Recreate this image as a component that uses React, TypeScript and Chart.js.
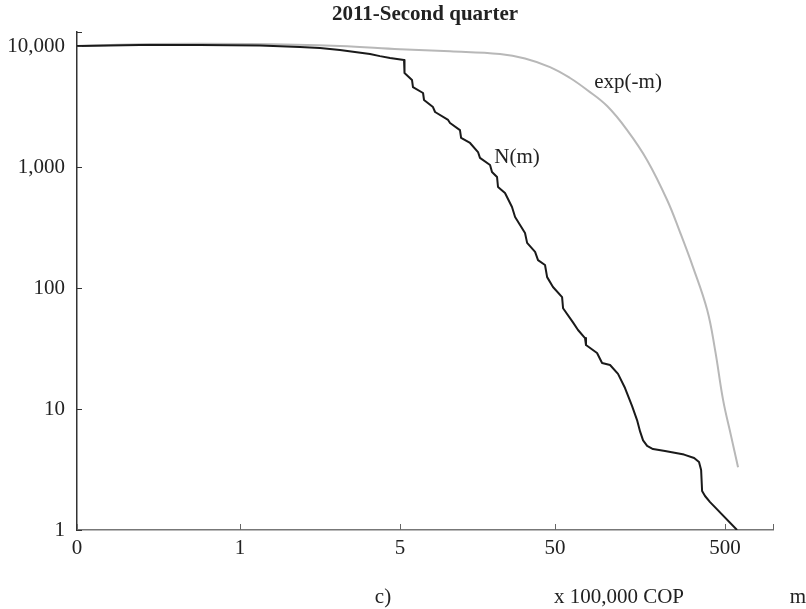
import React, { useEffect, useRef } from "react";
import { Chart, registerables } from "chart.js";

Chart.register(...registerables);

// x axis: position units, with labelled ticks (m in units of 100,000 COP)
const xTickPositions = [0, 1.002, 1.986, 2.94, 3.985, 4.28];
const xTickLabels = ["0", "1", "5", "50", "500", ""];
const yTickValues = [1, 10, 100, 1000, 10000, 13060];

// N(m) series
const nmX = [0, 0.387, 0.756, 1.125, 1.371, 1.494, 1.617, 1.709, 1.802, 1.863, 1.925, 2.011, 2.014, 2.06, 2.066, 2.128, 2.134, 2.189, 2.202, 2.282, 2.294, 2.355, 2.362, 2.417, 2.466, 2.478, 2.54, 2.552, 2.583, 2.589, 2.632, 2.675, 2.694, 2.755, 2.768, 2.817, 2.835, 2.878, 2.891, 2.927, 2.983, 2.989, 3.05, 3.081, 3.124, 3.13, 3.198, 3.229, 3.278, 3.327, 3.37, 3.413, 3.444, 3.463, 3.481, 3.506, 3.542, 3.616, 3.733, 3.795, 3.825, 3.838, 3.844, 3.862, 3.893, 4.059];
const nmY = [10000, 10190, 10190, 10090, 9810, 9620, 9270, 8920, 8590, 8250, 7960, 7660, 5980, 5240, 4580, 4090, 3580, 3130, 2850, 2450, 2310, 2020, 1740, 1580, 1330, 1190, 1040, 910, 827, 684, 610, 467, 386, 285, 236, 199, 170, 155, 123, 102, 84, 68, 52, 45, 38.6, 33.8, 29, 24, 23.1, 19.5, 14.9, 10.6, 8.1, 6.5, 5.5, 4.95, 4.67, 4.5, 4.2, 3.94, 3.65, 3.13, 2.1, 1.91, 1.7, 1];

// exp(-m) series
const expX = [0, 0.449, 1.064, 1.617, 1.986, 2.294, 2.601, 2.755, 2.909, 3.032, 3.137, 3.26, 3.383, 3.506, 3.629, 3.708, 3.788, 3.875, 3.924, 3.973, 4.022, 4.065];
const expY = [10000, 10390, 10390, 10000, 9400, 9050, 8600, 7900, 6700, 5440, 4330, 3190, 2020, 1140, 534, 290, 149, 66, 30.7, 11.9, 6.0, 3.3];

const seriesLabels = ["N(m)", "exp(-m)"];
const seriesLabelPos = [
  { x: 2.706, y: 1210 },
  { x: 3.389, y: 4950 },
];
const titleText = "2011-Second quarter";
const footerTexts = ["c)", "x 100,000 COP", "m"];

const FONT = "'Liberation Serif', 'Times New Roman', serif";

export default function App() {
  const ref = useRef<HTMLCanvasElement | null>(null);

  useEffect(() => {
    document.body.style.margin = "0";
    const canvas = ref.current;
    if (!canvas) return;

    const annotate = {
      id: "annotate",
      afterDraw(chart: any) {
        const ctx = chart.ctx;
        const xs = chart.scales.x;
        const ys = chart.scales.y;
        const area = chart.chartArea;
        ctx.save();
        // inner ticks
        ctx.lineWidth = 1;
        ctx.strokeStyle = "#666";
        xTickPositions.forEach((v) => {
          const px = Math.round(xs.getPixelForValue(v)) + 0.5;
          ctx.beginPath();
          ctx.moveTo(px, area.bottom);
          ctx.lineTo(px, area.bottom - 6);
          ctx.stroke();
        });
        ctx.strokeStyle = "#333";
        yTickValues.forEach((v) => {
          const py = Math.round(ys.getPixelForValue(v)) + 0.5;
          ctx.beginPath();
          ctx.moveTo(area.left, py);
          ctx.lineTo(area.left + 5, py);
          ctx.stroke();
        });
        // title
        ctx.fillStyle = "#222";
        ctx.font = `bold 21px ${FONT}`;
        ctx.textAlign = "center";
        ctx.textBaseline = "middle";
        ctx.fillText(titleText, (area.left + area.right) / 2, 15);
        // series labels
        ctx.font = `21px ${FONT}`;
        ctx.fillStyle = "#222";
        seriesLabels.forEach((t, i) => {
          const p = seriesLabelPos[i];
          ctx.fillText(t, xs.getPixelForValue(p.x), ys.getPixelForValue(p.y));
        });
        // footer texts
        ctx.fillText(footerTexts[0], 383, 597);
        ctx.fillText(footerTexts[1], 619, 597);
        ctx.fillText(footerTexts[2], 798, 597);
        ctx.restore();
      },
    };

    const chart = new Chart(canvas, {
      type: "scatter",
      data: {
        datasets: [
          {
            label: seriesLabels[0],
            data: nmX.map((x, i) => ({ x, y: nmY[i] })),
            showLine: true,
            borderColor: "#1a1a1a",
            borderWidth: 2,
            pointRadius: 0,
            tension: 0,
            borderJoinStyle: "round",
          },
          {
            label: seriesLabels[1],
            data: expX.map((x, i) => ({ x, y: expY[i] })),
            showLine: true,
            borderColor: "#b8b8b8",
            borderWidth: 2,
            pointRadius: 0,
            tension: 0.4,
          },
        ],
      },
      options: {
        responsive: false,
        animation: false,
        events: [],
        layout: { padding: { top: 32, right: 33, left: 0, bottom: 0 } },
        plugins: {
          legend: { display: false },
          title: { display: false },
          tooltip: { enabled: false },
        },
        scales: {
          x: {
            type: "linear",
            min: 0,
            max: xTickPositions[xTickPositions.length - 1],
            afterBuildTicks: (s: any) => {
              s.ticks = xTickPositions.map((v) => ({ value: v }));
            },
            afterFit: (s: any) => {
              s.height = 79;
            },
            ticks: {
              autoSkip: false,
              maxRotation: 0,
              padding: 6,
              color: "#222",
              font: { family: FONT, size: 21 },
              callback: (v: any) => {
                const i = xTickPositions.indexOf(Number(v));
                return i >= 0 ? xTickLabels[i] : "";
              },
            },
            grid: { display: false, drawTicks: false },
            border: { display: true, color: "#777", width: 1.5 },
          },
          y: {
            type: "logarithmic",
            min: 1,
            max: yTickValues[yTickValues.length - 1],
            afterBuildTicks: (s: any) => {
              s.ticks = yTickValues.map((v) => ({ value: v }));
            },
            afterFit: (s: any) => {
              s.width = 77;
            },
            ticks: {
              autoSkip: false,
              padding: 12,
              color: "#222",
              font: { family: FONT, size: 21 },
              callback: (v: any) => {
                const n = Number(v);
                const i = yTickValues.indexOf(n);
                if (i === yTickValues.length - 1) return "";
                return n.toLocaleString("en-US");
              },
            },
            grid: { display: false, drawTicks: false },
            border: { display: true, color: "#333", width: 1.5 },
          },
        },
      },
      plugins: [annotate],
    });

    return () => chart.destroy();
  }, []);

  return (
    <div style={{ width: 806, height: 609 }}>
      <canvas ref={ref} width={806} height={609} />
    </div>
  );
}
